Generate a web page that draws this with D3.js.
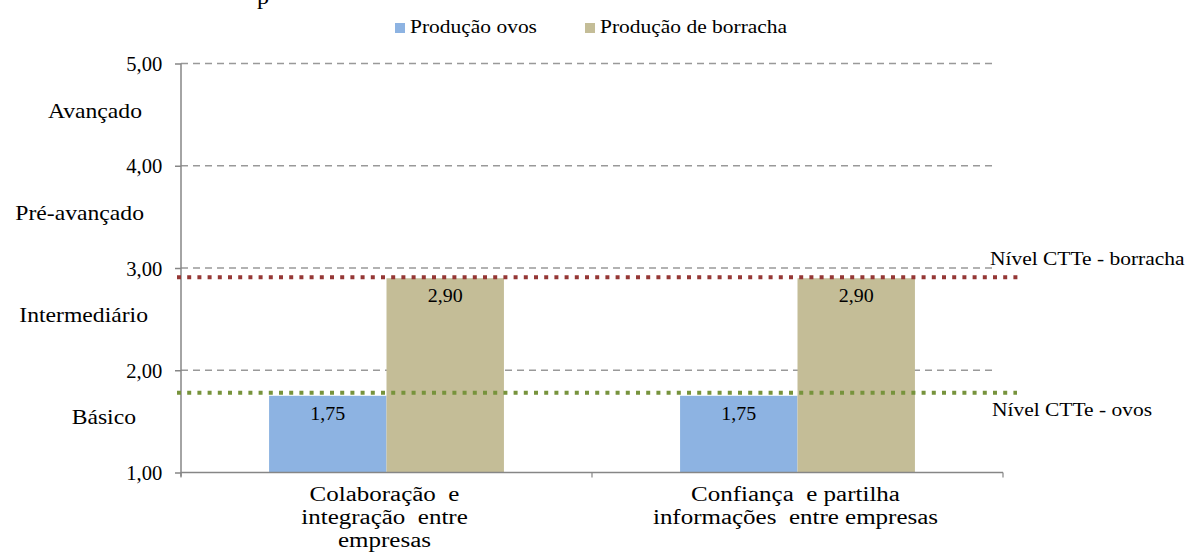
<!DOCTYPE html>
<html><head><meta charset="utf-8">
<script src="https://cdn.jsdelivr.net/npm/d3@7"></script>
<style>html,body{margin:0;padding:0;background:#fff;} svg{display:block;} text{font-family:"Liberation Serif","Times New Roman","DejaVu Serif",serif; white-space:pre;}</style>
</head><body><svg id="c" width="1189" height="556"></svg>
<script>
// ---- data ----
const categories = ["Colaboração e integração entre empresas", "Confiança e partilha informações entre empresas"];
const categoryLines = [["Colaboração  e", "integração  entre", "empresas"], ["Confiança  e partilha", "informações  entre empresas"]];
const series = ["Produção ovos", "Produção de borracha"];
const ovosValues = [1.75, 1.75];
const borrachaValues = [2.90, 2.90];
const yTicks = [1, 2, 3, 4, 5];
const levelNames = ["Básico", "Intermediário", "Pré-avançado", "Avançado"];
const levelMids = [1.5, 2.5, 3.5, 4.5];
const refNames = ["Nível CTTe - borracha", "Nível CTTe - ovos"];
const refValues = [2.91, 1.78];

// ---- layout / style ----
const FONT = "'Liberation Serif', 'Times New Roman', 'DejaVu Serif', serif";
const colors = {"Produção ovos": "#8DB3E2", "Produção de borracha": "#C4BD97"};
const refColors = ["#953735", "#77933C"];
const levelRightEdges = [136, 148, 144, 142];
const svg = d3.select("#c");
const pLeft = 181, pRight = 1003, pTop = 63.5, pBottom = 472.5;
const y = d3.scaleLinear().domain([1, 5]).range([pBottom, pTop]);
const x0 = d3.scaleBand().domain(categories).range([pLeft, pRight]);
const x1 = d3.scaleBand().domain(series).range([0, x0.bandwidth()]).paddingOuter(0.75);
const fmt = v => d3.format(".2f")(v).replace(".", ",");

function put(sel, x, yy, s, size, sx, anchor) {
  return sel.append("text")
    .attr("transform", `translate(${x},${yy}) scale(${sx},1)`)
    .attr("font-family", FONT).attr("xml:space", "preserve")
    .attr("text-anchor", anchor).attr("font-size", size).attr("fill", "#000").text(s);
}

// gridlines
svg.append("g").selectAll("line").data(yTicks.slice(1)).join("line")
  .attr("x1", pLeft).attr("x2", 997).attr("y1", d => y(d)).attr("y2", d => y(d))
  .attr("stroke", "#999").attr("stroke-width", 1.3).attr("stroke-dasharray", "7,5");

// bars
const rows = categories.map((c, i) => ({cat: c, vals: [ovosValues[i], borrachaValues[i]]}));
const gb = svg.append("g");
rows.forEach(r => {
  r.vals.forEach((v, j) => {
    const s = series[j];
    const bx = x0(r.cat) + x1(s);
    gb.append("rect").attr("x", bx).attr("y", y(v)).attr("width", x1.bandwidth()).attr("height", y(1) - y(v))
      .attr("fill", colors[s]);
    put(gb, bx + x1.bandwidth() / 2, y(v) + 24, fmt(v), 19, 1.05, "middle");
  });
});

// axes
const ya = svg.append("g").attr("transform", `translate(${pLeft},0)`)
  .call(d3.axisLeft(y).tickValues(yTicks).tickSize(6).tickFormat(fmt));
ya.attr("font-family", FONT);
ya.select(".domain").attr("stroke", "#868686").attr("stroke-width", 1.5).attr("d", `M0,${pTop}V${pBottom + 4}`);
ya.selectAll(".tick line").attr("stroke", "#868686").attr("stroke-width", 1.5);
ya.selectAll(".tick text").attr("x", null).attr("dy", null)
  .attr("transform", "translate(-18.7,7) scale(1.03,1)")
  .attr("font-size", 20).attr("font-family", FONT).attr("fill", "#000");

const xa = svg.append("g").attr("transform", `translate(0,${pBottom})`);
xa.append("line").attr("x1", pLeft).attr("x2", pRight).attr("y1", 0).attr("y2", 0)
  .attr("stroke", "#868686").attr("stroke-width", 1.5);
xa.selectAll(".ct").data([pLeft, x0(categories[1]), pRight]).join("line").attr("class", "ct")
  .attr("x1", d => d).attr("x2", d => d).attr("y1", 0).attr("y2", 5)
  .attr("stroke", "#868686").attr("stroke-width", 1.2);

// category labels
categories.forEach((c, i) => {
  const cx = x0(c) + x0.bandwidth() / 2 - 2;
  categoryLines[i].forEach((ln, k) => put(svg, cx, 501 + k * 23, ln, 20, 1.25, "middle"));
});

// reference lines
refValues.forEach((v, i) => {
  svg.append("line").attr("x1", 177).attr("x2", i === 0 ? 1022 : 1017)
    .attr("y1", y(v)).attr("y2", y(v)).attr("stroke", refColors[i])
    .attr("stroke-width", 4).attr("stroke-dasharray", "4,6.2");
});
put(svg, 990, y(refValues[0]) - 12, refNames[0], 19, 1.13, "start");
put(svg, 992, y(refValues[1]) + 23, refNames[1], 19, 1.13, "start");

// level labels
levelNames.forEach((n, i) => put(svg, levelRightEdges[i], y(levelMids[i]) + 3, n, 21.5, 1.1, "end"));

// legend
series.forEach((s, i) => {
  const lx = i === 0 ? 395 : 585;
  svg.append("rect").attr("x", lx).attr("y", 23).attr("width", 10).attr("height", 10).attr("fill", colors[s]);
  put(svg, lx + 15, 33.3, s, 19, 1.13, "start");
});

// cut-off title fragment at the top edge
put(svg, 257, 4, "p", 22, 1.1, "start");
</script></body></html>
